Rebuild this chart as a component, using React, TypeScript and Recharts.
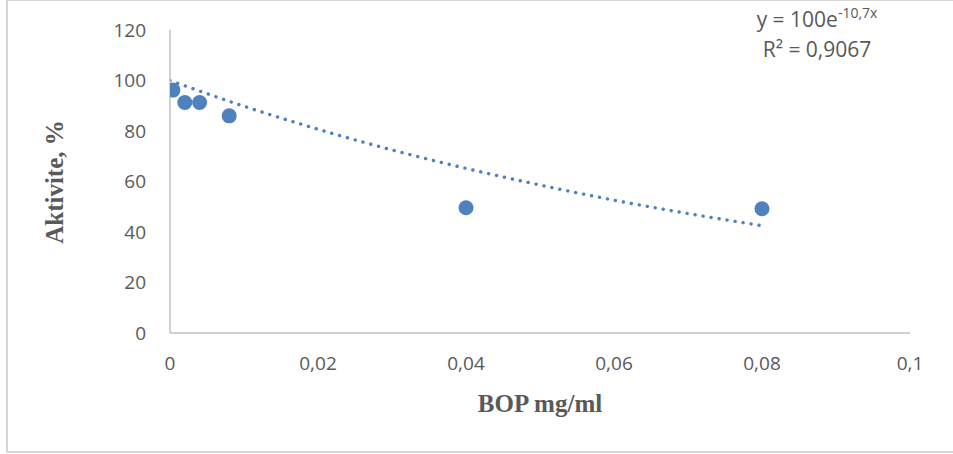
import React from "react";
import {
  ComposedChart,
  XAxis,
  YAxis,
  Scatter,
  Line,
  Customized,
} from "recharts";

const concentrations = [0.0004, 0.002, 0.004, 0.008, 0.04, 0.08];
const activities = [96.2, 91.3, 91.3, 86, 49.6, 49.2];

const trendX = [0, 0.01, 0.02, 0.03, 0.04, 0.05, 0.06, 0.07, 0.08];
const trendY = [100, 89.8, 80.7, 72.5, 65.2, 58.6, 52.6, 47.3, 42.5];

const xTicks = [0, 0.02, 0.04, 0.06, 0.08, 0.1];
const yTicks = [0, 20, 40, 60, 80, 100, 120];

const xTitle = "BOP mg/ml";
const yTitle = "Aktivite, %";
const eqMain = "y = 100e";
const eqExp = "-10,7x";
const r2Text = "R² = 0,9067";

const points = concentrations.map((x, i) => ({ x, y: activities[i] }));
const trend = trendX.map((x, i) => ({ x, y: trendY[i] }));

const BLUE = "#4f81bd";
const TEXT = "#595959";
const AXIS = "#bfbfbf";
const FRAME = "#d6d6d6";
const tickFont = { fontFamily: "'Open Sans', sans-serif", fontSize: 19, fill: TEXT };

const Overlay = () => (
  <g>
    <text
      x={540}
      y={412}
      textAnchor="middle"
      fontFamily="'Liberation Serif', 'Times New Roman', serif"
      fontWeight="bold"
      fontSize={25}
      fill={TEXT}
    >
      {xTitle}
    </text>
    <text
      x={63}
      y={182}
      textAnchor="middle"
      transform="rotate(-90 63 182)"
      fontFamily="'Liberation Serif', 'Times New Roman', serif"
      fontWeight="bold"
      fontSize={25}
      fill={TEXT}
    >
      {yTitle}
    </text>
    <text
      x={817}
      y={27}
      textAnchor="middle"
      fontFamily="'Open Sans', sans-serif"
      fontSize={21}
      fill={TEXT}
    >
      {eqMain}
      <tspan fontSize={14} dy={-9}>
        {eqExp}
      </tspan>
    </text>
    <text
      x={817}
      y={57}
      textAnchor="middle"
      fontFamily="'Open Sans', sans-serif"
      fontSize={21}
      fill={TEXT}
    >
      {r2Text}
    </text>
  </g>
);

export default function App() {
  return (
    <div
      style={{
        position: "absolute",
        left: 0,
        top: 0,
        width: 953,
        height: 454,
        background: "#fff",
        overflow: "hidden",
      }}
    >
      <div
        style={{
          position: "absolute",
          left: 6,
          top: -1,
          width: 1000,
          height: 454,
          borderLeft: `2px solid ${FRAME}`,
          borderTop: `2px solid ${FRAME}`,
          borderBottom: `2px solid ${FRAME}`,
          boxSizing: "border-box",
        }}
      />
      <div style={{ position: "absolute", left: 0, top: 0 }}>
        <ComposedChart
          width={953}
          height={454}
          margin={{ top: 30, right: 43, bottom: 41, left: 70 }}
        >
          <XAxis
            dataKey="x"
            type="number"
            domain={[0, 0.1]}
            ticks={xTicks}
            interval={0}
            height={80}
            tickLine={false}
            tickSize={0}
            tickMargin={24}
            axisLine={{ stroke: AXIS, strokeWidth: 1.5 }}
            tick={tickFont}
            tickFormatter={(v: number) => String(v).replace(".", ",")}
            allowDataOverflow
          />
          <YAxis
            dataKey="y"
            type="number"
            domain={[0, 120]}
            ticks={yTicks}
            interval={0}
            width={100}
            tickLine={false}
            tickSize={0}
            tickMargin={24}
            axisLine={{ stroke: AXIS, strokeWidth: 1.5 }}
            tick={tickFont}
          />
          <Line
            data={trend}
            dataKey="y"
            type="monotone"
            stroke={BLUE}
            strokeWidth={3.4}
            strokeDasharray="0.1 8"
            strokeLinecap="round"
            dot={false}
            activeDot={false}
            isAnimationActive={false}
          />
          <Scatter
            data={points}
            dataKey="y"
            fill={BLUE}
            shape={(p: any) => <circle cx={p.cx} cy={p.cy} r={7.5} fill={BLUE} />}
            isAnimationActive={false}
          />
          <Customized component={Overlay} />
        </ComposedChart>
      </div>
    </div>
  );
}
